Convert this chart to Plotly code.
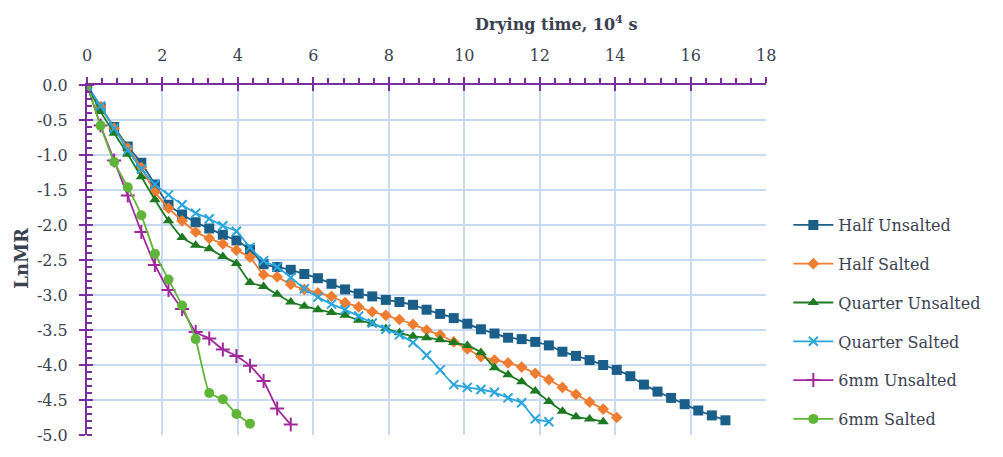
import plotly.graph_objects as go

STEP = 0.36  # hours expressed in 10^4 s

half_unsalted = [0, -0.32, -0.60, -0.88, -1.11, -1.42, -1.71, -1.85, -1.96, -2.05, -2.14, -2.22,
                 -2.35, -2.56, -2.60, -2.64, -2.70, -2.76, -2.84, -2.92, -2.98, -3.02, -3.07, -3.10,
                 -3.14, -3.21, -3.27, -3.33, -3.41, -3.49, -3.55, -3.61, -3.63, -3.67, -3.72, -3.81,
                 -3.87, -3.93, -4.00, -4.07, -4.16, -4.28, -4.38, -4.47, -4.56, -4.65, -4.72, -4.79]
half_salted = [0, -0.31, -0.62, -0.90, -1.18, -1.53, -1.76, -1.94, -2.10, -2.19, -2.27, -2.36,
               -2.46, -2.71, -2.74, -2.85, -2.92, -2.97, -3.02, -3.11, -3.17, -3.24, -3.29, -3.35,
               -3.42, -3.50, -3.57, -3.67, -3.77, -3.88, -3.93, -3.97, -4.03, -4.12, -4.21, -4.32,
               -4.42, -4.53, -4.63, -4.75]
quarter_unsalted = [0, -0.38, -0.69, -0.99, -1.31, -1.64, -1.94, -2.18, -2.29, -2.34, -2.45, -2.55,
                    -2.82, -2.88, -2.99, -3.10, -3.16, -3.21, -3.25, -3.29, -3.36, -3.41, -3.48, -3.54,
                    -3.59, -3.61, -3.64, -3.68, -3.72, -3.82, -4.04, -4.14, -4.24, -4.37, -4.52, -4.66,
                    -4.74, -4.77, -4.81]
quarter_salted = [0, -0.30, -0.62, -0.93, -1.20, -1.42, -1.57, -1.71, -1.83, -1.91, -2.01, -2.09,
                  -2.32, -2.51, -2.60, -2.75, -2.91, -3.03, -3.13, -3.21, -3.30, -3.40, -3.49, -3.57,
                  -3.68, -3.86, -4.07, -4.28, -4.32, -4.35, -4.39, -4.47, -4.54, -4.77, -4.81]
mm6_unsalted = [0, -0.58, -1.08, -1.58, -2.10, -2.57, -2.93, -3.20, -3.53, -3.62, -3.78, -3.87,
                -4.01, -4.23, -4.62, -4.85]
mm6_salted = [0, -0.58, -1.10, -1.46, -1.86, -2.41, -2.78, -3.15, -3.63, -4.40, -4.49, -4.70, -4.84]

series_names = ["Half Unsalted", "Half Salted", "Quarter Unsalted", "Quarter Salted",
                "6mm Unsalted", "6mm Salted"]
series_values = [half_unsalted, half_salted, quarter_unsalted, quarter_salted, mm6_unsalted, mm6_salted]
colors = ["#1b5e8a", "#ee7d31", "#1e7a22", "#2aa6dd", "#a0289c", "#5fb537"]
symbols = ["square", "diamond", "triangle-up", "x-thin", "cross-thin", "circle"]
sizes = [10, 9, 10, 9, 10, 10]

x_ticks = [0, 2, 4, 6, 8, 10, 12, 14, 16, 18]
y_tick_vals = [0, -0.5, -1, -1.5, -2, -2.5, -3, -3.5, -4, -4.5, -5]
y_tick_labels = ["0.0", "-0.5", "-1.0", "-1.5", "-2.0", "-2.5", "-3.0", "-3.5", "-4.0", "-4.5", "-5.0"]

FONT = "DejaVu Serif"
TXT = "#3a4252"
AXC = "#7a2ea0"
GRID = "#c8daf2"

fig = go.Figure()
for i, (name, vals) in enumerate(zip(series_names, series_values)):
    xs = [round(k * STEP, 2) for k in range(len(vals))]
    thin = symbols[i].endswith("thin")
    fig.add_trace(go.Scatter(
        x=xs, y=vals, name=name, mode="lines+markers",
        line=dict(color=colors[i], width=1.8, shape="spline", smoothing=0.4),
        marker=dict(symbol=symbols[i], size=sizes[i], color=colors[i],
                    line=dict(color=colors[i], width=2 if thin else 0)),
        legendgroup=name,
    ))

fig.update_layout(
    width=1003, height=457,
    margin=dict(l=87, r=230, t=85, b=12),
    paper_bgcolor="white", plot_bgcolor="white",
    font=dict(family=FONT, color=TXT, size=16),
    showlegend=True,
    legend=dict(xref="container", yref="container", x=0.786, y=1 - 208 / 457,
                xanchor="left", yanchor="top", tracegroupgap=15, itemwidth=40,
                font=dict(family=FONT, size=16, color=TXT), bgcolor="rgba(0,0,0,0)"),
    xaxis=dict(range=[0, 18], side="top", tickvals=x_ticks, showgrid=True, gridcolor=GRID,
               gridwidth=1.5, zeroline=False, showline=True, linecolor=AXC, linewidth=2,
               ticks="outside", ticklen=6, tickwidth=2, tickcolor=AXC, ticklabelstandoff=10,
               tickfont=dict(family=FONT, size=16, color=TXT),
               minor=dict(tickmode="linear", tick0=0, dtick=0.4, ticks="outside", ticklen=5,
                          tickwidth=1.5, tickcolor=AXC, showgrid=False)),
    xaxis2=dict(range=[0, 18], overlaying="x", side="top", anchor="y", matches="x",
                tickvals=x_ticks, showticklabels=False, showgrid=False, zeroline=False,
                ticks="inside", ticklen=6, tickwidth=2, tickcolor=AXC),
    yaxis=dict(range=[-5, 0], tickvals=y_tick_vals, ticktext=y_tick_labels, showgrid=True,
               gridcolor=GRID, gridwidth=1.5, zeroline=False, showline=True, linecolor=AXC,
               linewidth=2, ticks="outside", ticklen=6, tickwidth=2, tickcolor=AXC,
               ticklabelstandoff=8,
               tickfont=dict(family=FONT, size=16, color=TXT),
               minor=dict(tickmode="linear", tick0=0, dtick=0.1, ticks="inside", ticklen=5,
                          tickwidth=1.5, tickcolor=AXC, showgrid=False)),
    yaxis2=dict(range=[-5, 0], overlaying="y", side="left", anchor="x", matches="y",
                tickvals=y_tick_vals, showticklabels=False, showgrid=False, zeroline=False,
                ticks="inside", ticklen=6, tickwidth=2, tickcolor=AXC),
)

# invisible trace to activate the overlay axes
fig.add_trace(go.Scatter(x=[0], y=[0], xaxis="x2", yaxis="y2", mode="markers",
                         marker=dict(opacity=0), showlegend=False, hoverinfo="skip"))

PLOT_L, PLOT_W, PLOT_B, PLOT_H = 87, 686, 445, 360
fig.add_annotation(xref="paper", yref="paper", x=(561 - PLOT_L) / PLOT_W, y=(PLOT_B - 21) / PLOT_H,
                   text="<b>Drying time, 10<sup>4</sup> s</b>", showarrow=False,
                   font=dict(family=FONT, size=16, color=TXT), xanchor="center", yanchor="middle")
fig.add_annotation(xref="paper", yref="paper", x=(20 - PLOT_L) / PLOT_W, y=(PLOT_B - 263) / PLOT_H,
                   text="<b>LnMR</b>", showarrow=False, textangle=-90,
                   font=dict(family=FONT, size=18, color=TXT), xanchor="center", yanchor="middle")

fig.write_html("out.html")
